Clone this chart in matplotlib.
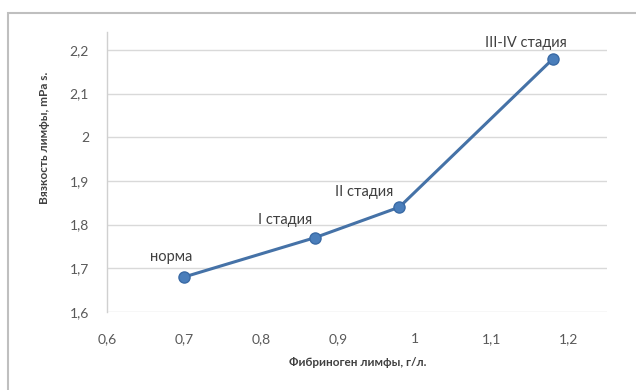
import matplotlib
matplotlib.use("Agg")
import matplotlib.pyplot as plt
from matplotlib.patches import Rectangle

# Fibrinogen concentration vs lymph viscosity by disease stage
fibrinogen = [0.70, 0.87, 0.98, 1.18]
viscosity = [1.68, 1.77, 1.84, 2.18]
stages = ["норма", "I стадия", "II стадия", "III-IV стадия"]

x_ticks = [0.6, 0.7, 0.8, 0.9, 1.0, 1.1, 1.2]
x_tick_labels = ["0,6", "0,7", "0,8", "0,9", "1", "1,1", "1,2"]
y_ticks = [1.6, 1.7, 1.8, 1.9, 2.0, 2.1, 2.2]
y_tick_labels = ["1,6", "1,7", "1,8", "1,9", "2", "2,1", "2,2"]

plt.rcParams["font.family"] = ["Lato", "DejaVu Sans"]

W, H = 636, 390
fig = plt.figure(figsize=(W / 100, H / 100), dpi=100)
fig.patch.set_facecolor("white")

# chart frame (runs off the right and bottom edges)
fig.add_artist(Rectangle((8 / W, -0.05), 1.0, 1 - 13 / H + 0.05,
                         transform=fig.transFigure, fill=False,
                         edgecolor="#bfbfbf", linewidth=1.5))

ax = fig.add_axes([107 / W, 1 - 312 / H, (607 - 107) / W, (312 - 32) / H])
ax.set_xlim(0.6, 1.25)
ax.set_ylim(1.6, 2.241)

ax.set_xticks(x_ticks)
ax.set_xticklabels(x_tick_labels)
ax.set_yticks(y_ticks)
ax.set_yticklabels(y_tick_labels)
ax.tick_params(length=0, labelsize=10, labelcolor="#595959", pad=15)
ax.tick_params(axis="y", pad=13)

for s in ["top", "right", "bottom"]:
    ax.spines[s].set_visible(False)
ax.spines["left"].set_color("#d0d0d0")
ax.spines["left"].set_linewidth(1.0)

ax.grid(axis="y", color="#d9d9d9", linewidth=1.0)
ax.set_axisbelow(True)

ax.plot(fibrinogen, viscosity, color="#4572a7", linewidth=2.2,
        marker="o", markersize=8, markerfacecolor="#4a7ebb",
        markeredgecolor="#3a6aa5", zorder=3)

# label offsets in points relative to each marker
offsets = [(-9, 14.4), (-21.6, 13), (-25, 11), (-19.5, 11.5)]
for xv, yv, lab, (dx, dy) in zip(fibrinogen, viscosity, stages, offsets):
    ax.annotate(lab, (xv, yv), xytext=(dx, dy), textcoords="offset points",
                ha="center", va="center", fontsize=10.5, color="#404040")

fig.text(358 / W, 1 - 362 / H, "Фибриноген лимфы, г/л.", ha="center",
         va="center", fontsize=8.5, fontweight="bold", color="#404040")
fig.text(45 / W, 1 - 138 / H, "Вязкость лимфы, mPa s.", ha="center",
         va="center", rotation=90, fontsize=8.5, fontweight="bold",
         color="#404040")

fig.savefig("out.png", dpi=100, facecolor="white")
